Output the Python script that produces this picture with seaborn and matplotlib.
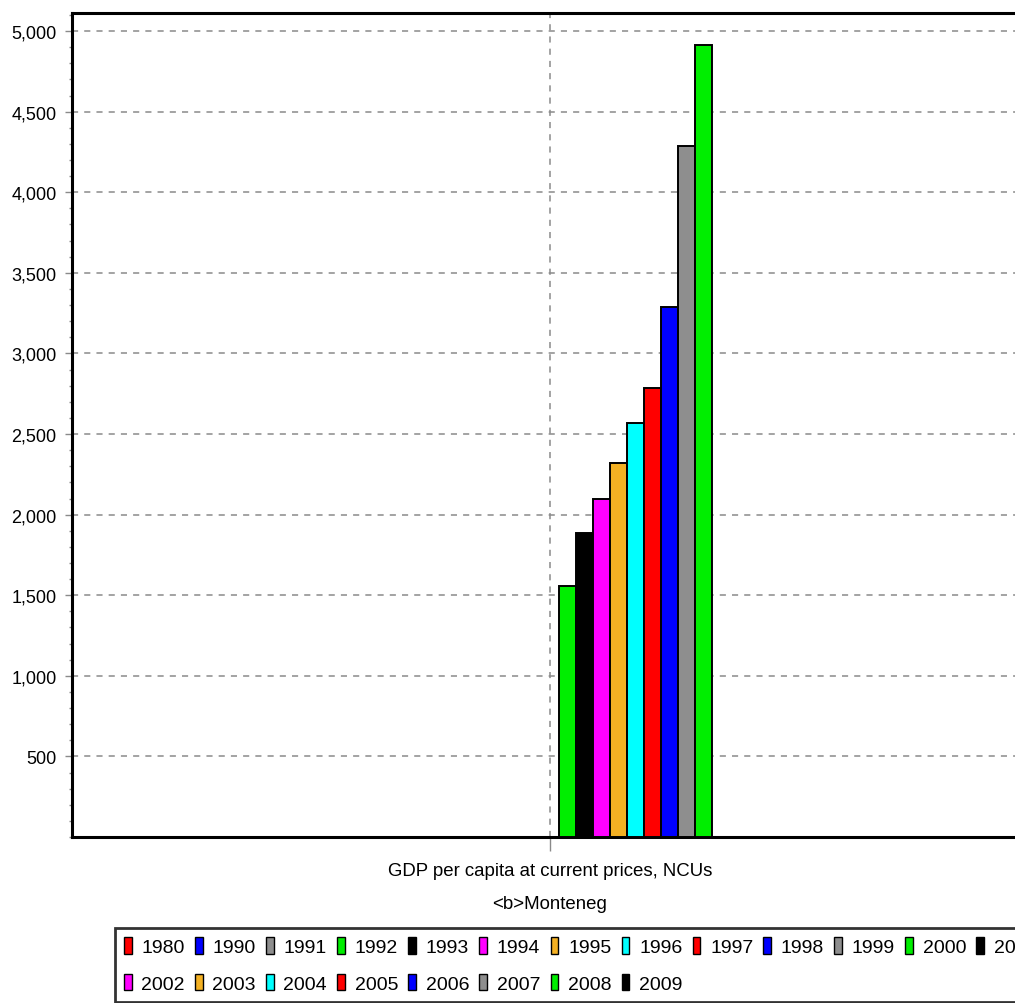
import matplotlib
matplotlib.use("Agg")
import matplotlib.pyplot as plt
from matplotlib.patches import Patch
from matplotlib.ticker import FuncFormatter, MultipleLocator
import matplotlib.transforms as mtransforms
import numpy as np
import pandas as pd
import seaborn as sns

# ---- data ----
category_lines = ["GDP per capita at current prices, NCUs", "<b>Monteneg"]
category = "\n".join(category_lines)
years = ["1980", "1990", "1991", "1992", "1993", "1994", "1995", "1996", "1997",
         "1998", "1999", "2000", "2001", "2002", "2003", "2004", "2005", "2006",
         "2007", "2008", "2009"]
values = [np.nan, np.nan, np.nan, np.nan, np.nan, np.nan, np.nan, np.nan, np.nan,
          np.nan, np.nan, 1557, 1886, 2094, 2322, 2568, 2785, 3290,
          4284, 4911, np.nan]
cycle_colors = ["#ff0000", "#0000ff", "#8e8e8e", "#00ee00",
                "#000000", "#ff00ff", "#f4b123", "#00ffff"]
yticks = [500, 1000, 1500, 2000, 2500, 3000, 3500, 4000, 4500, 5000]

palette = {y: cycle_colors[i % len(cycle_colors)] for i, y in enumerate(years)}
df = pd.DataFrame({"category": [category] * len(years), "year": years, "value": values})

sns.set_theme(style="white")
plt.rcParams['font.family'] = ['Liberation Sans', 'DejaVu Sans']
plt.rcParams['text.color'] = 'black'
plt.rcParams['xtick.labelcolor'] = 'black'
plt.rcParams['ytick.labelcolor'] = 'black'

W, H = 1015, 1004
fig = plt.figure(figsize=(W / 100, H / 100), dpi=100)
fig.patch.set_facecolor("white")
ax = fig.add_axes([72 / W, 1 - 838 / H, 956 / W, (838 - 14) / H])

sns.barplot(data=df, x="category", y="value", hue="year", hue_order=years,
            palette=palette, width=0.3757, dodge=True, edgecolor="black",
            linewidth=1.4, saturation=1, legend=False, ax=ax, zorder=3)

ax.set_xlim(-0.5, 0.5)
ax.set_ylim(0, 5112)
ax.set_yticks(yticks)
ax.yaxis.set_minor_locator(MultipleLocator(100))
ax.yaxis.set_major_formatter(FuncFormatter(lambda v, p: f"{int(v):,}"))
ax.set_xlabel("")
ax.set_ylabel("")
ax.set_xticks([0])
ax.set_xticklabels([""])

# category label (two lines) under the category position
trans = mtransforms.blended_transform_factory(ax.transData, fig.transFigure)
for line, ypix in zip(category_lines, [872, 905]):
    ax.text(0, 1 - ypix / H, line, transform=trans, ha="center", va="center",
            fontsize=13.4, color="black")

ax.grid(True, axis="both", which="major", color="#8a8a8a", linestyle=(0, (4, 4)),
        linewidth=1.1, zorder=0)
ax.set_axisbelow(True)

for side in ["left", "top", "bottom", "right"]:
    ax.spines[side].set_visible(True)
    ax.spines[side].set_color("black")
    ax.spines[side].set_linewidth(2.2)

ax.tick_params(axis="y", which="major", direction="out", length=5, width=1,
               color="#8a8a8a", labelsize=13, pad=6, left=True, labelcolor="black")
ax.tick_params(axis="y", which="minor", direction="out", length=2, width=1,
               color="#8a8a8a", left=True)
ax.tick_params(axis="x", which="major", direction="out", length=10, width=1,
               color="#8a8a8a", bottom=True)

# ---- legend (row-major order emulated) ----
ncol = 13
row1 = years[:ncol]
row2 = years[ncol:]
order = []
for i in range(ncol):
    order.append(row1[i])
    if i < len(row2):
        order.append(row2[i])
handles = [Patch(facecolor=palette[y], edgecolor="black", linewidth=1.0, label=y) for y in order]
leg = fig.legend(handles=handles, ncol=ncol, loc="upper left",
                 bbox_to_anchor=(115 / W, 1 - 929 / H), frameon=True, fancybox=False,
                 fontsize=14, handlelength=0.4, handleheight=0.95, handletextpad=0.5,
                 columnspacing=0.52, borderpad=0.45, labelspacing=0.92,
                 borderaxespad=0)
leg.get_frame().set_edgecolor("black")
leg.get_frame().set_linewidth(2.0)
for t in leg.get_texts():
    t.set_color("black")

fig.savefig("out.png", dpi=100, facecolor="white")
